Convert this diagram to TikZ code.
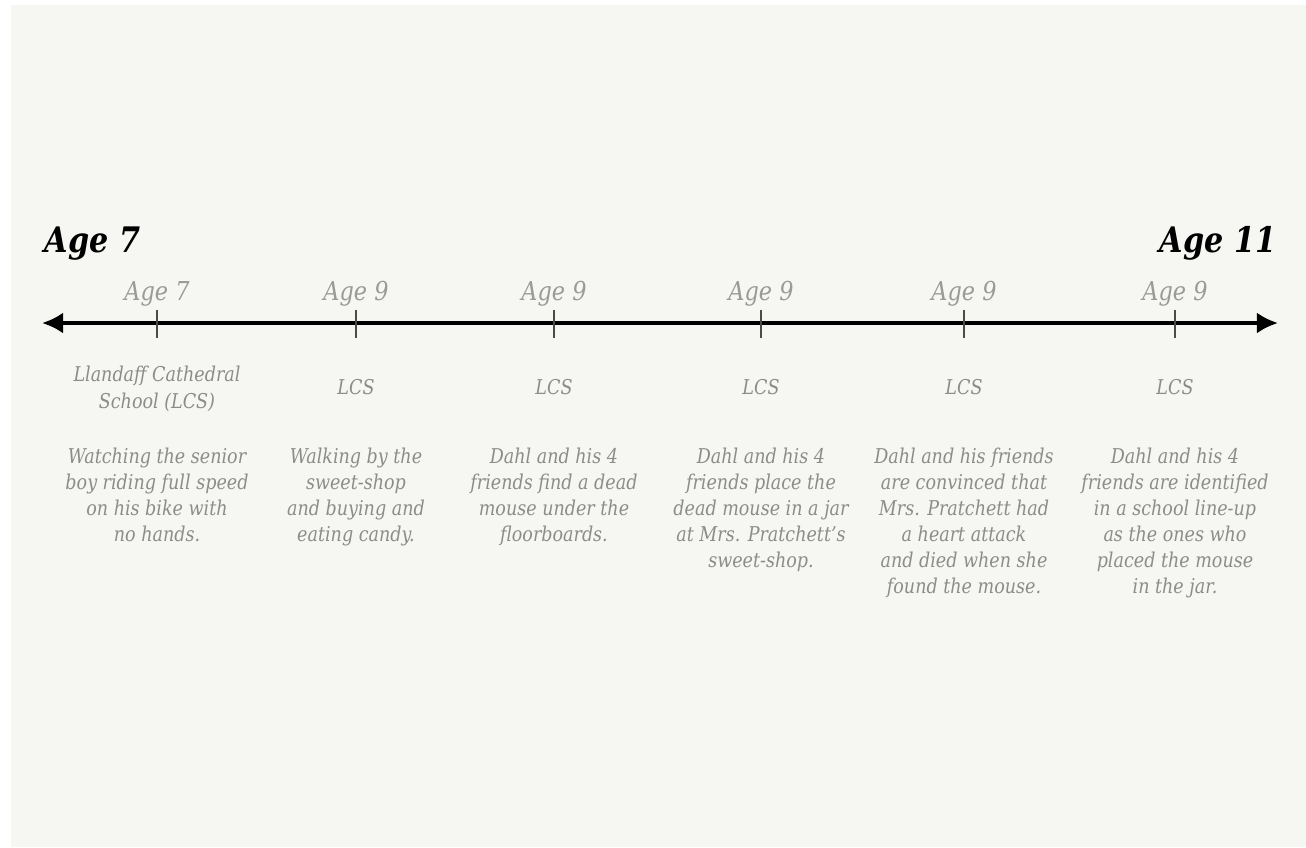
\documentclass[tikz,border=0pt]{standalone}
\usepackage{fontspec}
\setmainfont[FakeStretch=0.86]{DejaVu Serif}
\usepackage{tikz}
\usetikzlibrary{arrows.meta}

\definecolor{paper}{HTML}{F6F6F2}
\definecolor{inkgray}{HTML}{8C8C8A}
\definecolor{agegray}{HTML}{9A9A98}
\definecolor{tickgray}{HTML}{4A4A4A}

\tikzset{
    bigage/.style={font=\fontsize{10}{12}\selectfont\bfseries\itshape, text=black, inner sep=0pt},
    smallage/.style={font=\fontsize{7.4}{9}\selectfont\itshape, text=agegray, inner sep=0pt, anchor=base},
    place/.style={font=\fontsize{5.8}{7.6}\selectfont\itshape, text=inkgray, align=center, inner sep=0pt},
    event/.style={font=\fontsize{5.8}{7.4}\selectfont\itshape, text=inkgray, align=center, inner sep=0pt, anchor=north},
    tickmark/.style={draw=tickgray, line width=0.6pt},
}

\begin{document}
\begin{tikzpicture}[x=0.01cm, y=-0.01cm]
    %Paper
    \useasboundingbox (0,0) rectangle (1306,847);
    \fill[white] (0,0) rectangle (1306,847);
    \fill[paper] (11,5) rectangle (1306,847);

    %Axis ends
    \coordinate (start) at (42,323);
    \coordinate (stop) at (1278,323);
    \draw[line width=1.1pt, {Latex[length=6pt,width=6pt]}-{Latex[length=6pt,width=6pt]}] (start) -- (stop);

    %Ticks
    \coordinate (t1) at (157,323);
    \coordinate (t2) at (356,323);
    \coordinate (t3) at (554,323);
    \coordinate (t4) at (761,323);
    \coordinate (t5) at (964,323);
    \coordinate (t6) at (1175,323);
    \draw[tickmark] (t1) ++(0,-13) -- ++(0,28);
    \draw[tickmark] (t2) ++(0,-13) -- ++(0,28);
    \draw[tickmark] (t3) ++(0,-13) -- ++(0,28);
    \draw[tickmark] (t4) ++(0,-13) -- ++(0,28);
    \draw[tickmark] (t5) ++(0,-13) -- ++(0,28);
    \draw[tickmark] (t6) ++(0,-13) -- ++(0,28);

    %Range
    \node[bigage, anchor=base west] (first) at (44,252) {Age 7};
    \node[bigage, anchor=base east] (last) at (1277,252) {Age 11};

    %Ages
    \node[smallage] (age1) at (157,300) {Age 7};
    \node[smallage] (age2) at (356,300) {Age 9};
    \node[smallage] (age3) at (554,300) {Age 9};
    \node[smallage] (age4) at (761,300) {Age 9};
    \node[smallage] (age5) at (964,300) {Age 9};
    \node[smallage] (age6) at (1175,300) {Age 9};

    %Places
    \node[place] (place1) at (157,389) {Llandaff Cathedral\\School (LCS)};
    \node[place] (place2) at (356,387) {LCS};
    \node[place] (place3) at (554,387) {LCS};
    \node[place] (place4) at (761,387) {LCS};
    \node[place] (place5) at (964,387) {LCS};
    \node[place] (place6) at (1175,387) {LCS};

    %Events
    \node[event] (event1) at (157,447) {Watching the senior\\boy riding full speed\\on his bike with\\no hands.};
    \node[event] (event2) at (356,447) {Walking by the\\sweet-shop\\and buying and\\eating candy.};
    \node[event] (event3) at (554,447) {Dahl and his 4\\friends find a dead\\mouse under the\\floorboards.};
    \node[event] (event4) at (761,447) {Dahl and his 4\\friends place the\\dead mouse in a jar\\at Mrs. Pratchett's\\sweet-shop.};
    \node[event] (event5) at (964,447) {Dahl and his friends\\are convinced that\\Mrs. Pratchett had\\a heart attack\\and died when she\\found the mouse.};
    \node[event] (event6) at (1175,447) {Dahl and his 4\\friends are identified\\in a school line-up\\as the ones who\\placed the mouse\\in the jar.};
\end{tikzpicture}
\end{document}
